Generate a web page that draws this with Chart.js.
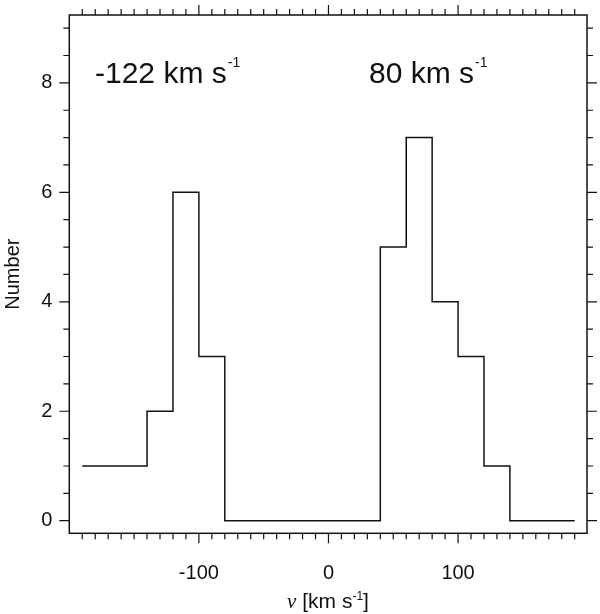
<!DOCTYPE html>
<html>
<head>
<meta charset="utf-8">
<script src="https://cdn.jsdelivr.net/npm/chart.js@4.4.1/dist/chart.umd.min.js"></script>
<style>
  html, body { margin: 0; padding: 0; background: #fff; }
  #wrap { position: relative; width: 600px; height: 614px; font-family: 'Liberation Sans', Arial, sans-serif; color: #111; }
  canvas { position: absolute; left: 0; top: 0; }
  .note { position: absolute; font-size: 30px; line-height: 30px; white-space: nowrap; }
  .note sup, .xtitle sup { position: relative; vertical-align: baseline; }
  .note sup { font-size: 14px; top: -16px; margin-left: 1px; }
  .xtitle { position: absolute; left: 228px; width: 200px; text-align: center; font-size: 21px; line-height: 21px; white-space: nowrap; }
  .xtitle sup { font-size: 12px; top: -8px; }
  .nu { font-family: 'Liberation Serif', 'DejaVu Serif', serif; font-style: italic; }
</style>
</head>
<body>
<div id="wrap">
  <canvas id="chart" width="600" height="614"></canvas>
  <div class="note" style="left:95px; top:58px;">-122 km s<sup>-1</sup></div>
  <div class="note" style="left:369px; top:58px;">80 km s<sup>-1</sup></div>
  <div class="xtitle" style="top:590px;"><span class="nu">ν</span> [km s<sup>-1</sup>]</div>
</div>
<script>
// histogram of velocities: counts per bin, bins given by their left edges (+ final right edge)
const binEdges = [-190, -140, -120, -100, -80, 40, 60, 80, 100, 120, 140, 190];
const binCounts = [1, 2, 6, 3, 0, 5, 7, 4, 3, 1, 0];

const xMajorTicks = [-100, 0, 100];
const yMajorTicks = [0, 2, 4, 6, 8];
const X_MINOR_STEP = 10;
const Y_MINOR_STEP = 0.5;
const X_RANGE = [-200, 199.5];
const Y_RANGE = [-0.23, 9.24];

const INK = '#111';

const points = binEdges.map((e, i) => ({ x: e, y: binCounts[Math.min(i, binCounts.length - 1)] }));

// frame plus outward tick marks on all four sides (minor short, major long)
const frameTicks = {
  id: 'frameTicks',
  afterDraw(chart) {
    const { ctx, chartArea: a, scales: { x, y } } = chart;
    ctx.save();
    ctx.strokeStyle = INK;
    ctx.lineWidth = 1.5;
    ctx.strokeRect(a.left, a.top, a.right - a.left, a.bottom - a.top);

    ctx.lineWidth = 1.2;
    ctx.beginPath();
    for (let v = -190; v <= 190; v += X_MINOR_STEP) {
      const px = x.getPixelForValue(v);
      const len = xMajorTicks.includes(v) ? 10 : 6;
      ctx.moveTo(px, a.bottom); ctx.lineTo(px, a.bottom + len);
      ctx.moveTo(px, a.top); ctx.lineTo(px, a.top - len);
    }
    for (let v = 0; v <= 9; v += Y_MINOR_STEP) {
      const py = y.getPixelForValue(v);
      const len = yMajorTicks.includes(v) ? 10 : 6;
      ctx.moveTo(a.left, py); ctx.lineTo(a.left - len, py);
      ctx.moveTo(a.right, py); ctx.lineTo(a.right + len, py);
    }
    ctx.stroke();
    ctx.restore();
  }
};

new Chart(document.getElementById('chart'), {
  type: 'line',
  data: {
    datasets: [{
      data: points,
      stepped: 'before',
      borderColor: INK,
      borderWidth: 1.5,
      pointRadius: 0,
      fill: false
    }]
  },
  options: {
    responsive: false,
    animation: false,
    layout: { padding: { left: 0, top: 15, right: 13, bottom: 0 } },
    plugins: { legend: { display: false }, tooltip: { enabled: false } },
    scales: {
      x: {
        type: 'linear',
        min: X_RANGE[0],
        max: X_RANGE[1],
        grid: { display: false, drawTicks: false },
        border: { display: false },
        afterBuildTicks: s => { s.ticks = xMajorTicks.map(v => ({ value: v })); },
        afterFit: s => { s.height = 80.7; s.paddingLeft = 0; s.paddingRight = 0; },
        ticks: { padding: 28, color: INK, font: { family: 'Liberation Sans', size: 20 } }
      },
      y: {
        min: Y_RANGE[0],
        max: Y_RANGE[1],
        grid: { display: false, drawTicks: false },
        border: { display: false },
        afterBuildTicks: s => { s.ticks = yMajorTicks.map(v => ({ value: v })); },
        afterFit: s => { s.width = 69.3; s.paddingTop = 0; s.paddingBottom = 0; },
        ticks: { padding: 17, color: INK, font: { family: 'Liberation Sans', size: 20 } },
        title: { display: true, text: 'Number', color: INK, padding: { top: 1.5, bottom: 0 }, font: { family: 'Liberation Sans', size: 20 } }
      }
    }
  },
  plugins: [frameTicks]
});
</script>
</body>
</html>
